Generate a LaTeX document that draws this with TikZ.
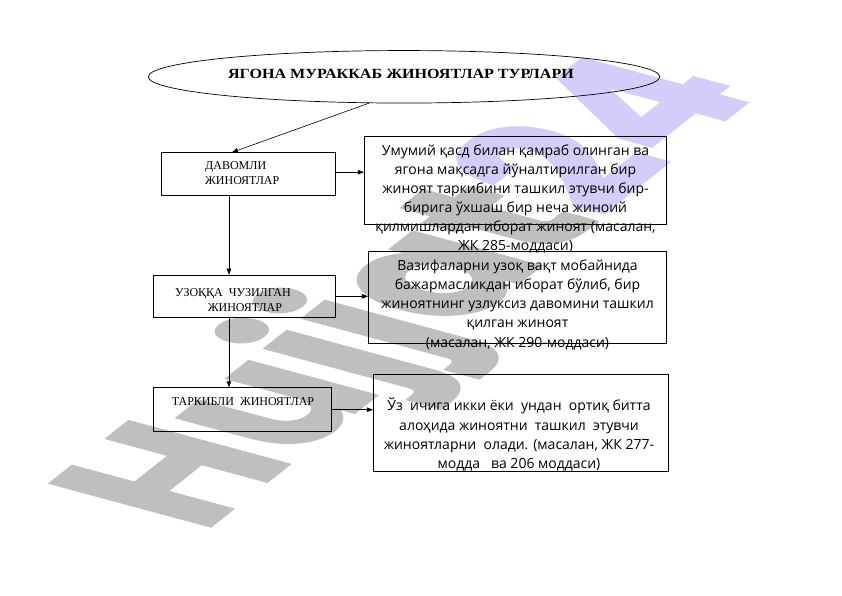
\documentclass[tikz,border=0pt]{standalone}
\usepackage{fontspec}
\setmainfont{Liberation Serif}
\newfontfamily\osans{Open Sans}
\newfontfamily\titlefont{Liberation Serif}[FakeStretch=1.15]
\newfontfamily\wmfont{Poppins}[FakeBold=1.5]
\usetikzlibrary{arrows.meta,shapes.geometric}
\definecolor{wmgrey}{RGB}{191,191,191}
\definecolor{wmpurple}{RGB}{214,204,250}
\tikzset{
  box/.style={draw=black, line width=0.7pt, inner sep=0pt},
  arr/.style={draw=black, line width=0.6pt, -{Triangle[length=6pt,width=4.5pt]}},
  lefttext/.style={inner sep=0pt, anchor=base west, align=left, font=\fontsize{12}{15}\selectfont},
  righttext/.style={inner sep=0pt, anchor=base, align=center, font=\osans\fontsize{14}{19.07}\selectfont},
}
\begin{document}
\begin{tikzpicture}[x=1pt,y=-1pt]
\fill[white] (0,0) rectangle (842,596);
\useasboundingbox (0,0) rectangle (842,596);
% watermark
\begin{scope}[cm={1.295,1.023,-2.277,0.614,(202,533)}]
  \node[inner sep=0pt, anchor=base west, transform shape, font=\wmfont\bfseries\fontsize{100}{100}\selectfont] (wm) at (0,0) {\textcolor{wmgrey}{Hujjat}\textcolor{wmpurple}{24}};
\end{scope}
% title
\node[box, ellipse, minimum width=511.5pt, minimum height=52.5pt] (top) at (404,76.8) {};
\node[inner sep=0pt, anchor=base, font=\titlefont\fontsize{14}{16}\selectfont\bfseries] (title) at (401,78.3) {ЯГОНА МУРАККАБ ЖИНОЯТЛАР ТУРЛАРИ};
% left boxes
\node[box, minimum width=173.3pt, minimum height=43pt] (d1) at (248.35,174.2) {};
\node[box, minimum width=181.7pt, minimum height=42.7pt] (d2) at (244.15,296.35) {};
\node[box, minimum width=177.7pt, minimum height=44pt] (d3) at (242.15,409.7) {};
\node[lefttext] (d1t) at (205,184.3) {ДАВОМЛИ\\ЖИНОЯТЛАР};
\node[lefttext] (d2ta) at (175,296.7) {УЗОҚҚА~ ЧУЗИЛГАН};
\node[lefttext] (d2tb) at (207.7,311.7) {ЖИНОЯТЛАР};
\node[lefttext] (d3t) at (171.7,405.7) {ТАРКИБЛИ~ ЖИНОЯТЛАР};
% right boxes
\node[box, minimum width=302.4pt, minimum height=87.3pt] (r1) at (515.5,180.35) {};
\node[box, minimum width=298.4pt, minimum height=92.3pt] (r2) at (517.5,297.15) {};
\node[box, minimum width=295pt, minimum height=97pt] (r3) at (520.8,422.5) {};
\node[righttext] (r1t) at (515.5,250.35) {Умумий қасд билан қамраб олинган ва\\ягона мақсадга йўналтирилган бир\\жиноят таркибини ташкил этувчи бир-\\бирига ўхшаш бир неча жиноий\\қилмишлардан иборат жиноят (масалан,\\ЖК 285-моддаси)};
\node[righttext] (r2t) at (517.5,347) {Вазифаларни узоқ вақт мобайнида\\бажармасликдан иборат бўлиб, бир\\жиноятнинг узлуксиз давомини ташкил\\қилган жиноят\\(масалан, ЖК 290-моддаси)};
\node[righttext] (r3t) at (519,468.2) {Ўз~ ичига икки ёки~ ундан~ ортиқ битта\\алоҳида жиноятни~ ташкил~ этувчи\\жиноятларни~ олади. (масалан, ЖК 277-\\модда~~ ва 206 моддаси)};
% connectors
\draw[arr] (top.217.6) -- ([xshift=-16.35pt]d1.north);
\draw[arr] ([yshift=2pt]d1.east) -- ([yshift=2pt]d1.east -| r1.west);
\draw[arr] ([xshift=-19.35pt]d1.south) -- ([xshift=-19.35pt]d1.south |- d2.north);
\draw[arr] (d2.east) -- (d2.east -| r2.west);
\draw[arr] ([xshift=-15.15pt]d2.south) -- ([xshift=-15.15pt]d2.south |- d3.north);
\draw[arr] (d3.east) -- (d3.east -| r3.west);
\end{tikzpicture}
\end{document}
